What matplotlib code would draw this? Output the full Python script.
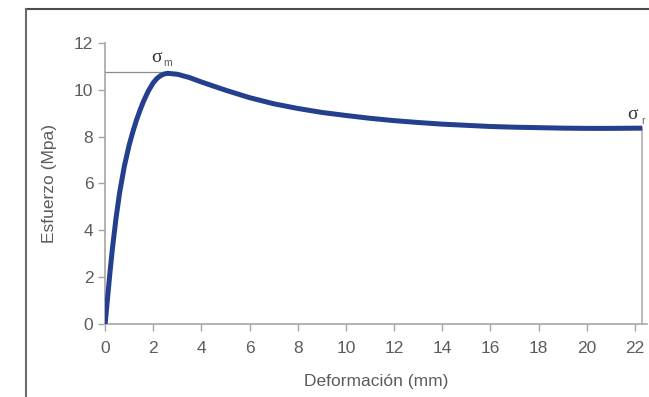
import matplotlib
matplotlib.use("Agg")
import matplotlib.pyplot as plt

# Stress-strain curve: deformation (mm) vs stress (MPa)
deformacion = [0.0, 0.1, 0.2, 0.3, 0.45, 0.6, 0.8, 1.0, 1.15, 1.3, 1.45, 1.6, 1.8,
               2.0, 2.15, 2.3, 2.45, 2.6, 3.0, 3.5, 4.0, 5.0, 6.0, 7.0, 8.0, 9.0,
               10.0, 11.0, 12.0, 13.0, 14.0, 15.0, 16.0, 17.0, 18.0, 19.0, 20.0,
               21.0, 22.3]
esfuerzo = [0.0, 1.1, 2.2, 3.2, 4.5, 5.6, 6.75, 7.65, 8.2, 8.7, 9.13, 9.52, 9.96,
            10.3, 10.48, 10.6, 10.67, 10.7, 10.66, 10.52, 10.33, 9.98, 9.66, 9.4,
            9.2, 9.03, 8.9, 8.78, 8.68, 8.6, 8.53, 8.48, 8.43, 8.4, 8.38, 8.36,
            8.35, 8.35, 8.36]
x_ticks = list(range(0, 23, 2))
y_ticks = list(range(0, 13, 2))

sigma_m = max(esfuerzo)
x_m = deformacion[esfuerzo.index(sigma_m)]
sigma_r = esfuerzo[-1]
x_r = deformacion[-1]

plt.rcParams['font.family'] = ['Liberation Sans', 'DejaVu Sans']

fig = plt.figure(figsize=(6.49, 3.97), dpi=100)
ax = fig.add_axes([0.162, 0.184, 0.835, 0.708])

grey = '#a6a6a6'
text_c = '#5c5c5c'

# reference lines for maximum and rupture stress
ax.plot([0, x_m], [sigma_m + 0.05, sigma_m + 0.05], color='#8c8c8c', lw=0.9, zorder=1)
ax.plot([x_r, x_r], [0, sigma_r], color='#b0b0b0', lw=1.2, zorder=1)

ax.plot(deformacion, esfuerzo, color='#243f8e', lw=3.6, solid_capstyle='butt',
        solid_joinstyle='round', zorder=3)

ax.text(x_m - 0.45, sigma_m + 0.3, '\u03c3', fontsize=14, color='#333333',
        family='Liberation Serif', ha='center', va='bottom')
ax.text(x_m + 0.0, sigma_m + 0.22, 'm', fontsize=7.5, color=text_c, ha='center', va='bottom')
ax.text(x_r - 0.4, sigma_r + 0.2, '\u03c3', fontsize=14, color='#333333',
        family='Liberation Serif', ha='center', va='bottom')
ax.text(x_r + 0.02, sigma_r + 0.1, 'r', fontsize=7.5, color=text_c, ha='center', va='bottom')

ax.set_xlim(0, 22.5)
ax.set_ylim(0, 12)
ax.set_xticks(x_ticks)
ax.set_yticks(y_ticks)
ax.tick_params(colors=grey, labelcolor=text_c, labelsize=12.5, length=5, width=1)
ax.tick_params(axis='x', pad=7)
for s in ['top', 'right']:
    ax.spines[s].set_visible(False)
for s in ['left', 'bottom']:
    ax.spines[s].set_color(grey)
    ax.spines[s].set_linewidth(1.2)

ax.set_xlabel('Deformación (mm)', fontsize=12.5, color=text_c, labelpad=13)
ax.set_ylabel('Esfuerzo (Mpa)', fontsize=12.5, color=text_c, labelpad=12)

# outer frame (top and left edges)
fig.add_artist(plt.Line2D([0.040, 1.0], [0.977, 0.977], color='#4d4d4d', lw=1.5,
                          transform=fig.transFigure))
fig.add_artist(plt.Line2D([0.040, 0.040], [0.0, 0.977], color='#6b6b6b', lw=1.5,
                          transform=fig.transFigure))

fig.savefig('out.png', dpi=100)
